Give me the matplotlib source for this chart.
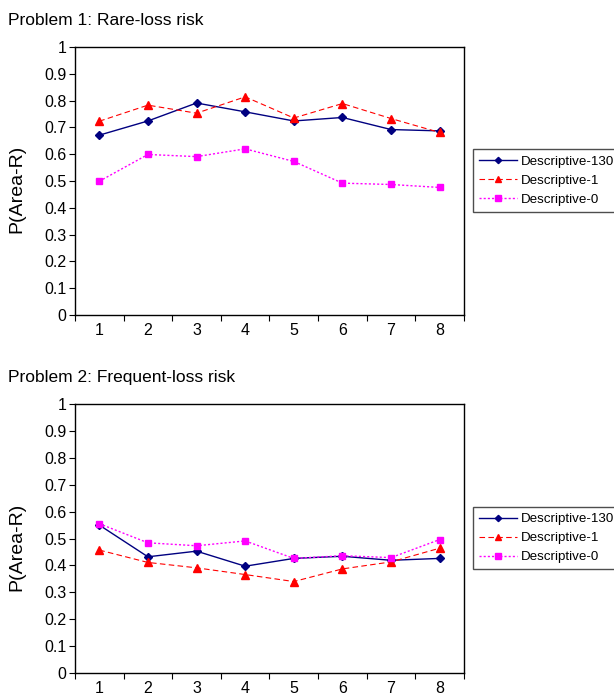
import matplotlib.pyplot as plt

plt.rcParams['font.family'] = ['Liberation Sans', 'DejaVu Sans']

blocks = [1, 2, 3, 4, 5, 6, 7, 8]
yticks = [0, 0.1, 0.2, 0.3, 0.4, 0.5, 0.6, 0.7, 0.8, 0.9, 1]
ytick_labels = ['0', '0.1', '0.2', '0.3', '0.4', '0.5', '0.6', '0.7', '0.8', '0.9', '1']
series_names = ['Descriptive-130', 'Descriptive-1', 'Descriptive-0']

# problem 1: rare-loss
p1_d130 = [0.671, 0.724, 0.791, 0.758, 0.724, 0.737, 0.692, 0.687]
p1_d1 = [0.723, 0.783, 0.753, 0.814, 0.735, 0.789, 0.733, 0.681]
p1_d0 = [0.499, 0.599, 0.591, 0.620, 0.573, 0.492, 0.487, 0.476]

# problem 2: frequent-loss
p2_d130 = [0.550, 0.432, 0.453, 0.397, 0.426, 0.434, 0.419, 0.426]
p2_d1 = [0.457, 0.411, 0.391, 0.366, 0.340, 0.387, 0.413, 0.464]
p2_d0 = [0.555, 0.484, 0.473, 0.491, 0.426, 0.436, 0.429, 0.496]

fig = plt.figure(figsize=(6.14, 6.97), dpi=100)

panels = [
    ('Problem 1: Rare-loss risk', [p1_d130, p1_d1, p1_d0], [0.1221, 0.548, 0.6336, 0.3846], 0.741),
    ('Problem 2: Frequent-loss risk', [p2_d130, p2_d1, p2_d0], [0.1221, 0.0344, 0.6336, 0.386], 0.228),
]

styles = [
    dict(color='#000080', linestyle='-', marker='D', markersize=4, linewidth=1),
    dict(color='#FF0000', linestyle=(0, (5, 3)), marker='^', markersize=6, linewidth=0.8),
    dict(color='#FF00FF', linestyle=(0, (1.5, 1.5)), marker='s', markersize=5, linewidth=1),
]

for title, data, rect, leg_y in panels:
    ax = fig.add_axes(rect)
    for vals, name, st in zip(data, series_names, styles):
        ax.plot(blocks, vals, label=name, **st)
    ax.set_xlim(0.5, 8.5)
    ax.set_ylim(0, 1)
    ax.set_yticks(yticks)
    ax.set_yticklabels(ytick_labels, fontsize=11.5)
    ax.set_xticks([b - 0.5 for b in blocks] + [8.5])
    ax.set_xticklabels([])
    ax.set_xticks(blocks, minor=True)
    ax.set_xticklabels([str(b) for b in blocks], minor=True, fontsize=11.5)
    ax.tick_params(axis='x', which='major', direction='out', length=4)
    ax.tick_params(axis='x', which='minor', length=0, pad=6)
    ax.tick_params(axis='y', direction='out', length=4, pad=2)
    ax.set_ylabel('P(Area-R)', fontsize=14)
    ax.yaxis.set_label_coords(-0.128, 0.47)
    for s in ax.spines.values():
        s.set_linewidth(1)
    fig.text(0.013, rect[1] + rect[3] + 0.038, title, fontsize=12.5, va='center')
    leg = ax.legend(loc='center left', bbox_to_anchor=(0.770, leg_y), bbox_transform=fig.transFigure,
                    fontsize=9.6, frameon=True, fancybox=False, borderaxespad=0,
                    handlelength=2.9, handletextpad=0.25, labelspacing=0.5, borderpad=0.45,
                    markerscale=0.8)
    leg.get_frame().set_edgecolor('#222222')
    leg.get_frame().set_linewidth(1)

plt.savefig('out.png', dpi=100)
